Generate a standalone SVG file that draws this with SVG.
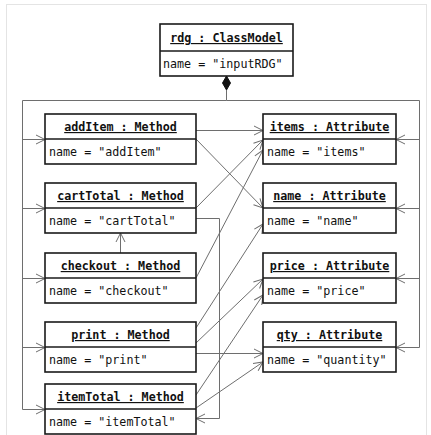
<svg xmlns="http://www.w3.org/2000/svg" width="431" height="435" viewBox="0 0 431 435">
  <style>
    .box { fill: #ffffff; stroke: #1a1a1a; stroke-width: 1.6; }
    .sep { stroke: #1a1a1a; stroke-width: 1.4; }
    .hdr { font-family: "DejaVu Sans Mono", "Liberation Mono", monospace; font-size: 11.7px; font-weight: bold; text-decoration: underline; text-anchor: middle; fill: #111; }
    .att { font-family: "DejaVu Sans Mono", "Liberation Mono", monospace; font-size: 11.7px; fill: #111; }
    .ln { fill: none; stroke: #6e6e6e; stroke-width: 1; }
    .arr { fill: none; stroke: #6e6e6e; stroke-width: 1; marker-end: url(#open); }
  </style>
  <defs>
    <marker id="open" markerUnits="userSpaceOnUse" markerWidth="12" markerHeight="12" refX="10" refY="6" orient="auto">
      <path d="M1,1.5 L10,6 L1,10.5" fill="none" stroke="#6e6e6e" stroke-width="1"/>
    </marker>
  </defs>

  <rect width="431" height="435" fill="#ffffff"/>
  <rect x="6.5" y="4.5" width="420" height="440" fill="none" stroke="#e4e4e4" stroke-width="1"/>

  <g id="connectors">
    <!-- composition from the class model -->
    <path class="ln" d="M226.5,90 V100.5"/>
    <path class="ln" d="M226.5,100.5 H22.5 V409.5"/>
    <path class="ln" d="M226.5,100.5 H419.5 V347.5"/>
    <path class="arr" d="M22.5,139.5 H45"/>
    <path class="arr" d="M22.5,208.5 H45"/>
    <path class="arr" d="M22.5,278.5 H45"/>
    <path class="arr" d="M22.5,347.5 H45"/>
    <path class="arr" d="M22.5,409.5 H45"/>
    <path class="arr" d="M419.5,139.5 H396"/>
    <path class="arr" d="M419.5,208.5 H396"/>
    <path class="arr" d="M419.5,278.5 H396"/>
    <path class="arr" d="M419.5,347.5 H396"/>
    <!-- method to attribute / method references -->
    <path class="arr" d="M196,130.5 H263"/>
    <path class="arr" d="M196,139 L263,208"/>
    <path class="arr" d="M196,208 L263,140"/>
    <path class="arr" d="M196,218.5 H219.5 V418.5 H196"/>
    <path class="arr" d="M196,278 L263,150"/>
    <path class="arr" d="M120.5,253 V233"/>
    <path class="arr" d="M196,328 L263,224"/>
    <path class="arr" d="M196,343 L263,279"/>
    <path class="arr" d="M196,353.5 H263"/>
    <path class="arr" d="M196,395 L263,295"/>
    <path class="arr" d="M196,408 L263,362"/>
  </g>

  <g id="rdg">
    <rect class="box" x="160" y="24" width="133" height="52"/>
    <line class="sep" x1="160" y1="51" x2="293" y2="51"/>
    <text class="hdr" x="226.5" y="42">rdg : ClassModel</text>
    <text class="att" x="163" y="68">name = "inputRDG"</text>
    <path d="M226.5,76 L230.5,83 L226.5,90 L222.5,83 Z" fill="#111" stroke="#111" stroke-width="1"/>
  </g>

  <g id="addItem">
    <rect class="box" x="45" y="114" width="151" height="50"/>
    <line class="sep" x1="45" y1="139" x2="196" y2="139"/>
    <text class="hdr" x="120.5" y="131">addItem : Method</text>
    <text class="att" x="49" y="156">name = "addItem"</text>
  </g>

  <g id="cartTotal">
    <rect class="box" x="45" y="183" width="151" height="50"/>
    <line class="sep" x1="45" y1="208" x2="196" y2="208"/>
    <text class="hdr" x="120.5" y="200">cartTotal : Method</text>
    <text class="att" x="49" y="225">name = "cartTotal"</text>
  </g>

  <g id="checkout">
    <rect class="box" x="45" y="253" width="151" height="50"/>
    <line class="sep" x1="45" y1="278" x2="196" y2="278"/>
    <text class="hdr" x="120.5" y="270">checkout : Method</text>
    <text class="att" x="49" y="295">name = "checkout"</text>
  </g>

  <g id="print">
    <rect class="box" x="45" y="322" width="151" height="50"/>
    <line class="sep" x1="45" y1="347" x2="196" y2="347"/>
    <text class="hdr" x="120.5" y="339">print : Method</text>
    <text class="att" x="49" y="364">name = "print"</text>
  </g>

  <g id="itemTotal">
    <rect class="box" x="45" y="384" width="151" height="50"/>
    <line class="sep" x1="45" y1="409" x2="196" y2="409"/>
    <text class="hdr" x="120.5" y="401">itemTotal : Method</text>
    <text class="att" x="49" y="426">name = "itemTotal"</text>
  </g>

  <g id="items">
    <rect class="box" x="263" y="114" width="133" height="50"/>
    <line class="sep" x1="263" y1="139" x2="396" y2="139"/>
    <text class="hdr" x="329.5" y="131">items : Attribute</text>
    <text class="att" x="267" y="156">name = "items"</text>
  </g>

  <g id="name">
    <rect class="box" x="263" y="183" width="133" height="50"/>
    <line class="sep" x1="263" y1="208" x2="396" y2="208"/>
    <text class="hdr" x="329.5" y="200">name : Attribute</text>
    <text class="att" x="267" y="225">name = "name"</text>
  </g>

  <g id="price">
    <rect class="box" x="263" y="253" width="133" height="50"/>
    <line class="sep" x1="263" y1="278" x2="396" y2="278"/>
    <text class="hdr" x="329.5" y="270">price : Attribute</text>
    <text class="att" x="267" y="295">name = "price"</text>
  </g>

  <g id="qty">
    <rect class="box" x="263" y="322" width="133" height="50"/>
    <line class="sep" x1="263" y1="347" x2="396" y2="347"/>
    <text class="hdr" x="329.5" y="339">qty : Attribute</text>
    <text class="att" x="267" y="364">name = "quantity"</text>
  </g>
</svg>
